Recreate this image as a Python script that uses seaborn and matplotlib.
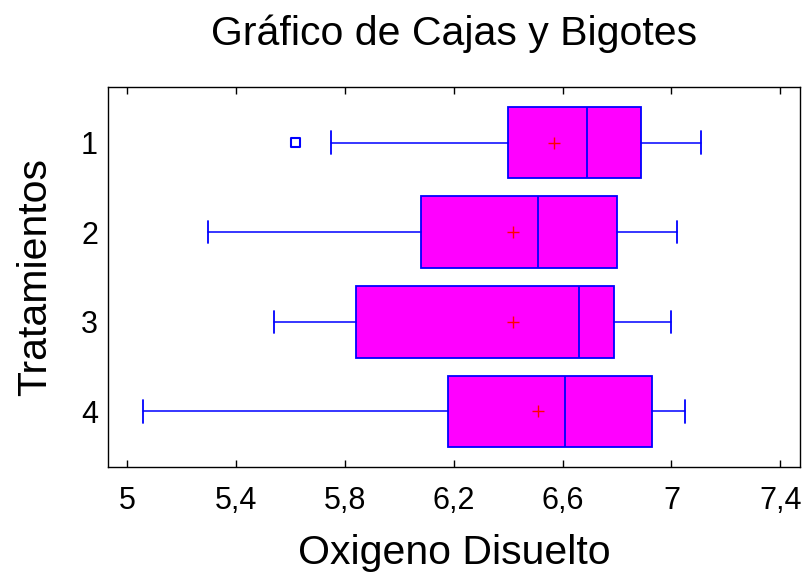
import matplotlib
matplotlib.use("Agg")
import matplotlib.pyplot as plt
import matplotlib.ticker as mticker
import seaborn as sns
import pandas as pd

# box statistics (Oxigeno Disuelto per tratamiento)
tratamientos = ["1", "2", "3", "4"]
q1 = [6.40, 6.08, 5.84, 6.18]
mediana = [6.69, 6.51, 6.66, 6.61]
q3 = [6.89, 6.80, 6.79, 6.93]
bigote_inf = [5.75, 5.30, 5.54, 5.06]
bigote_sup = [7.11, 7.02, 7.00, 7.05]
media = [6.57, 6.42, 6.42, 6.51]
atipicos = [[5.62], [], [], []]
xticks = [5.0, 5.4, 5.8, 6.2, 6.6, 7.0, 7.4]

sns.set_theme(style="ticks")
plt.rcParams["font.family"] = ["Liberation Sans", "DejaVu Sans"]
plt.rcParams["text.color"] = "black"
plt.rcParams["axes.labelcolor"] = "black"
plt.rcParams["xtick.color"] = "black"
plt.rcParams["ytick.color"] = "black"

fig, ax = plt.subplots(figsize=(8.04, 5.73), dpi=100)
fig.subplots_adjust(left=0.134, right=0.995, top=0.848, bottom=0.185)

stats = []
for i, t in enumerate(tratamientos):
    stats.append({
        "label": t, "q1": q1[i], "med": mediana[i], "q3": q3[i],
        "whislo": bigote_inf[i], "whishi": bigote_sup[i],
        "mean": media[i], "fliers": atipicos[i],
    })

pos = list(range(len(tratamientos)))
ax.bxp(stats, positions=pos, vert=False, widths=0.8, patch_artist=True,
       showfliers=False, showmeans=False, capwidths=0.25,
       boxprops=dict(facecolor="#ff00ff", edgecolor="#0000ff", linewidth=1.3),
       medianprops=dict(color="#0000ff", linewidth=1.3),
       whiskerprops=dict(color="#0000ff", linewidth=1.1),
       capprops=dict(color="#0000ff", linewidth=1.3))

medias_df = pd.DataFrame({"valor": media, "pos": pos})
sns.scatterplot(data=medias_df, x="valor", y="pos", marker="+", color="red",
                s=80, linewidth=1.0, ax=ax, zorder=5)

fl_x = [v for i in pos for v in atipicos[i]]
fl_y = [i for i in pos for v in atipicos[i]]
sns.scatterplot(x=fl_x, y=fl_y, marker="s", s=40, facecolor="none",
                edgecolor="#0000ff", linewidth=1.5, ax=ax, zorder=5)

ax.set_xlim(4.93, 7.472)
ax.set_ylim(3.62, -0.62)
ax.set_xticks(xticks)
ax.xaxis.set_major_formatter(mticker.FuncFormatter(
    lambda v, p: f"{v:g}".replace(".", ",")))
ax.set_yticks(pos)
ax.set_yticklabels(tratamientos)
ax.tick_params(axis="x", direction="in", length=5, top=True, width=1,
               labelsize=22, pad=14)
ax.tick_params(axis="y", length=0, labelsize=22, pad=7)
for s in ax.spines.values():
    s.set_color("black")
    s.set_linewidth(1.0)

ax.set_xlabel("Oxigeno Disuelto", fontsize=29.5, labelpad=13)
ax.set_ylabel("Tratamientos", fontsize=29.5, labelpad=19)
ax.set_title("Gráfico de Cajas y Bigotes", fontsize=29.5, pad=30)

fig.savefig("out.png", dpi=100)
